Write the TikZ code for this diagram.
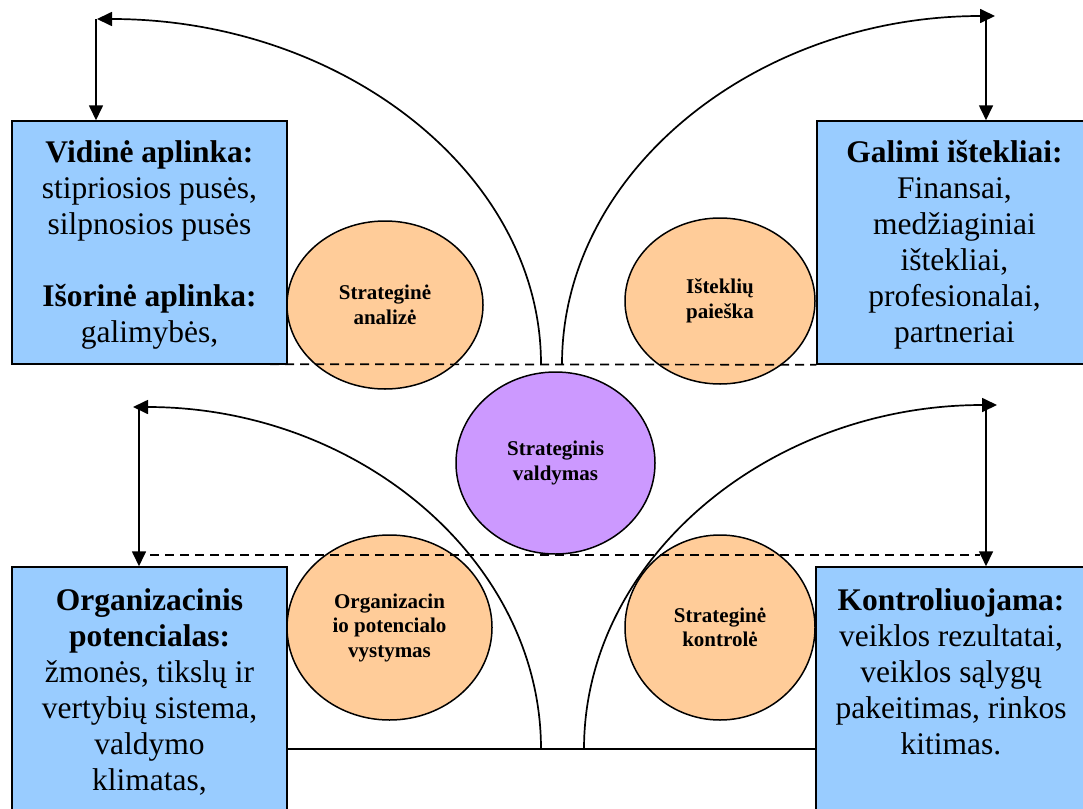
\documentclass[tikz,border=0pt]{standalone}
\usepackage{fontspec}
\setmainfont{Liberation Serif}
\usetikzlibrary{shapes.geometric,arrows.meta}
\definecolor{boxblue}{HTML}{99CCFF}
\definecolor{peach}{HTML}{FFCC99}
\definecolor{lilac}{HTML}{CC99FF}
\tikzset{
  infobox/.style={rectangle, draw=black, line width=1.5pt, fill=boxblue,
    minimum width=275pt, inner sep=0pt},
  bigtext/.style={font=\fontsize{31.5}{36}\selectfont, align=center,
    inner sep=0pt, anchor=north},
  topic/.style={ellipse, draw=black, line width=1.5pt, fill=peach, inner sep=0pt,
    font=\bfseries\fontsize{21}{24.5}\selectfont, align=center},
  link/.style={line width=1.6pt},
  tiplink/.style={line width=1.7pt, -{Triangle[length=15pt,width=14pt]}},
  guide/.style={line width=1.7pt, dash pattern=on 9pt off 6pt},
}
\begin{document}
\begin{tikzpicture}[x=1pt,y=-1pt]
\useasboundingbox (0,0) rectangle (1083,808);
\clip (0,0) rectangle (1083,808);

% information boxes
\node[infobox, minimum height=243pt] (vid) at (149.5,242.5) {};
\node[infobox, minimum height=243pt] (gal) at (954.5,242.5) {};
\node[infobox, minimum height=283pt] (org) at (149.5,708.5) {};
\node[infobox, minimum height=283pt] (kon) at (953.5,708.5) {};

% box texts
\node[bigtext] (vidtxt) at (149.5,140) {\textbf{Vidinė aplinka:}\\ stipriosios pusės,\\ silpnosios pusės\\[36pt] \textbf{Išorinė aplinka:}\\ galimybės,};
\node[bigtext] (galtxt) at (954.5,140) {\textbf{Galimi ištekliai:}\\ Finansai,\\ medžiaginiai\\ ištekliai,\\ profesionalai,\\ partneriai};
\node[bigtext] (orgtxt) at (149.5,588) {\textbf{Organizacinis}\\ \textbf{potencialas:}\\ žmonės, tikslų ir\\ vertybių sistema,\\ valdymo\\ klimatas,};
\node[bigtext] (kontxt) at (951,588) {\textbf{Kontroliuojama:}\\ veiklos rezultatai,\\ veiklos sąlygų\\ pakeitimas, rinkos\\ kitimas.};

% process stages
\node[topic, minimum width=196pt, minimum height=168pt] (an) at (385,305) {Strateginė\\ analizė};
\node[topic, minimum width=190pt, minimum height=166pt] (ist) at (720,301) {Išteklių\\ paieška};
\node[topic, fill=lilac, minimum width=199pt, minimum height=182pt] (sv) at (555.5,463) {Strateginis\\ valdymas};
\node[topic, minimum width=205pt, minimum height=185pt] (op) at (389.5,627.5) {Organizacin\\ io potencialo\\ vystymas};
\node[topic, minimum width=190pt, minimum height=185pt] (sk) at (720,627.5) {Strateginė\\ kontrolė};

% anchor points of the sweeping arcs
\coordinate (tlfoot) at (541,364);
\coordinate (trfoot) at (562,364);
\coordinate (blfoot) at (541,749);
\coordinate (brfoot) at (584,749);
\coordinate (tltip) at (97,19);
\coordinate (trtip) at (995,16);
\coordinate (bltip) at (133,407);
\coordinate (brtip) at (997,405);
\coordinate (tlv) at (96,19);
\coordinate (trv) at (986,16);
\coordinate (blv) at (139,407);
\coordinate (brv) at (986,405);

% dashed guide lines
\coordinate (tgl) at (135,364);
\draw[guide] (tgl) -- (gal.south west);
\coordinate (gl) at (150,555);
\coordinate (gr) at (980,555);
\draw[guide] (gl) -- (gr);

% base line
\draw[link] (org.east |- blfoot) -- (kon.west |- blfoot);

% sweeping arcs
\draw[tiplink] (tlfoot) .. controls (541,173.5) and (342,19) .. (tltip);
\draw[tiplink] (trfoot) .. controls (562,171.8) and (756,16) .. (trtip);
\draw[tiplink] (blfoot) .. controls (541,560) and (358,407) .. (bltip);
\draw[tiplink] (brfoot) .. controls (584,559) and (769,405) .. (brtip);

% vertical arrows into the boxes
\draw[tiplink] (tlv) -- (tlv |- vid.north);
\draw[tiplink] (trv) -- (trv |- gal.north);
\draw[tiplink] (blv) -- (blv |- org.north);
\draw[tiplink] (brv) -- (brv |- kon.north);
\end{tikzpicture}
\end{document}
